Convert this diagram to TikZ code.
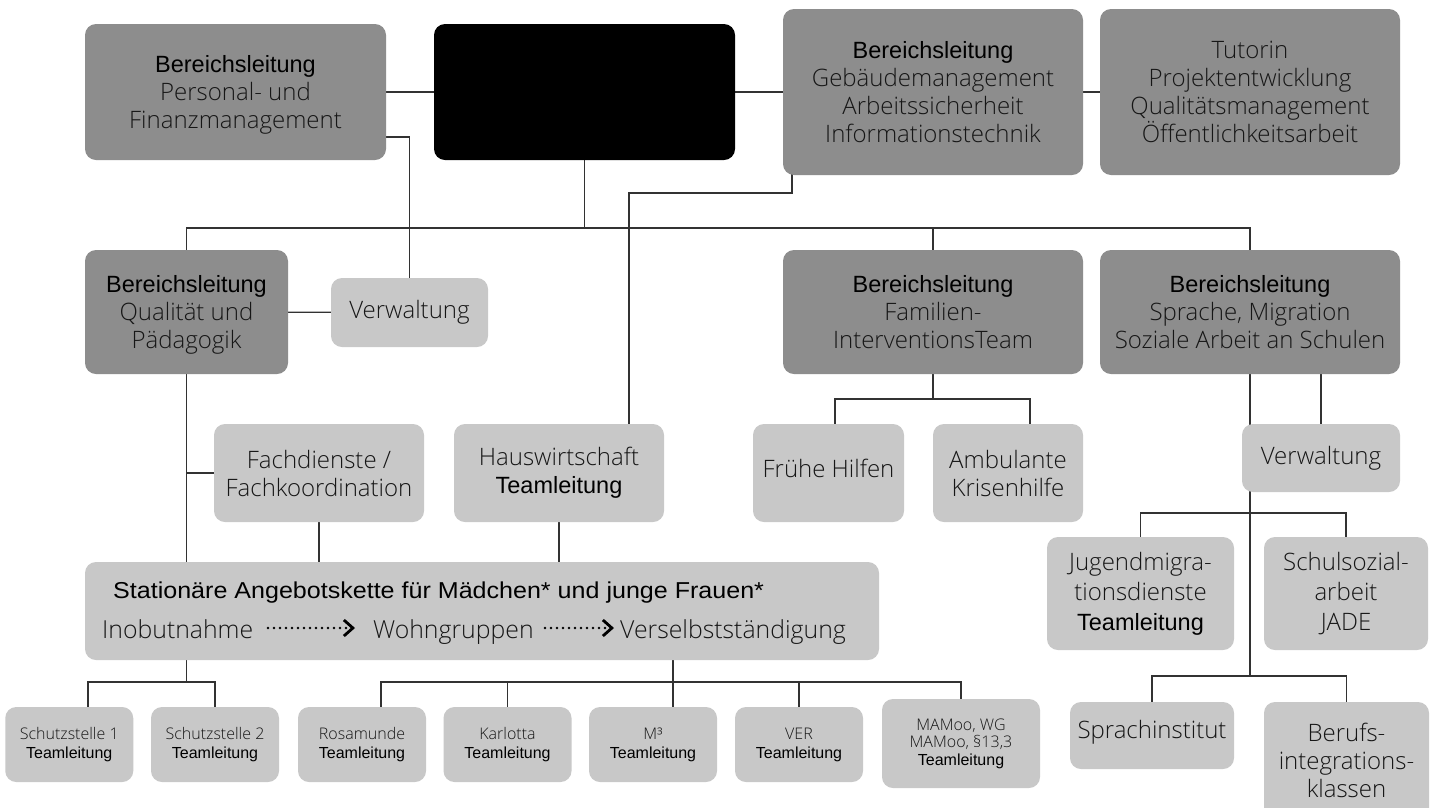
\documentclass[tikz,border=0pt]{standalone}
\usepackage{fontspec}
\usepackage{graphicx}
\usetikzlibrary{arrows.meta}
\IfFontExistsTF{Open Sans Light}{\newfontfamily\ltf{Open Sans Light}}{\newfontfamily\ltf{Open Sans}}
\newfontfamily\arf{Liberation Sans}
\setmainfont{Open Sans}
\definecolor{dgray}{RGB}{141,141,141}
\definecolor{lgray}{RGB}{200,200,200}
\definecolor{lnc}{RGB}{50,50,50}
\definecolor{txt}{RGB}{22,22,22}
\definecolor{smtxt}{RGB}{60,60,60}
\newcommand\fbig{\ltf\fontsize{24}{28}\selectfont}
\newcommand\fbigj{\ltf\fontsize{24}{30}\selectfont}
\newcommand\fchain{\ltf\fontsize{24.8}{28}\selectfont}
\newcommand\fsmall{\ltf\fontsize{16}{19}\selectfont\color{smtxt}}
\newcommand\hdr{\arf\fontsize{23.5}{28}\selectfont\color{black}}
\newcommand\tlsmall{\arf\fontsize{16}{19}\selectfont\color{black}}
\pgfdeclarelayer{bg}
\pgfdeclarelayer{lines}
\pgfsetlayers{bg,lines,main}
\begin{document}
\begin{tikzpicture}[x=1pt,y=-1pt,
  box/.style={rounded corners=11pt, inner sep=0pt, align=center, text=txt, font=\fbig},
  dk/.style={box, fill=dgray},
  lt/.style={box, fill=lgray},
  sm/.style={box, fill=lgray, font=\fsmall, minimum width=128pt, minimum height=75pt},
  conn/.style={draw=lnc, line width=1.2pt},
  dotarrow/.style={draw=black, line width=2.6pt, dash pattern=on 0pt off 6pt, line cap=round,
     -{Straight Barb[length=9pt, width=16pt, line width=2.8pt]}}]
\useasboundingbox (0,0) rectangle (1437,807);
\begin{pgfonlayer}{bg}
\fill[white] (0,0) rectangle (1437,807);
\end{pgfonlayer}
\clip (0,0) rectangle (1437,807);

% top row
\node[dk, minimum width=301pt, minimum height=136pt, text depth=0pt] (pf) at (235.5,92)
  {{\hdr Bereichsleitung}\\Personal- und\\Finanzmanagement};
\node[box, fill=black, minimum width=301pt, minimum height=136pt] (ceo) at (584.5,92) {};
\node[dk, minimum width=300pt, minimum height=166pt] (geb) at (933,92)
  {{\hdr Bereichsleitung}\\Gebäudemanagement\\Arbeitssicherheit\\Informationstechnik};
\node[dk, minimum width=300pt, minimum height=166pt] (tut) at (1250,92)
  {Tutorin\\Projektentwicklung\\Qualitätsmanagement\\Öffentlichkeitsarbeit};

% second row
\node[dk, minimum width=203pt, minimum height=124pt, text depth=0pt] (blq) at (186.5,312)
  {{\hdr Bereichsleitung}\\Qualität und\\Pädagogik};
\node[lt, minimum width=157pt, minimum height=69pt] (verw1) at (409.5,312.5) {Verwaltung};
\node[dk, minimum width=300pt, minimum height=124pt] (fam) at (933,312)
  {{\hdr Bereichsleitung}\\Familien-\\InterventionsTeam};
\node[dk, minimum width=300pt, minimum height=124pt] (spr) at (1250,312)
  {{\hdr Bereichsleitung}\\Sprache, Migration\\Soziale Arbeit an Schulen};

% third row
\node[lt, minimum width=210pt, minimum height=98pt] (fach) at (319,473) {Fachdienste /\\Fachkoordination};
\node[lt, minimum width=210pt, minimum height=98pt] (haus) at (559,473) {Hauswirtschaft\\{\hdr Teamleitung}};
\node[lt, minimum width=151pt, minimum height=98pt, text depth=10pt] (fruh) at (828.5,473) {Frühe Hilfen};
\node[lt, minimum width=150pt, minimum height=98pt] (amb) at (1008,473) {Ambulante\\Krisenhilfe};
\node[lt, minimum width=158pt, minimum height=68pt] (verw2) at (1321,458) {Verwaltung};

% right column
\node[lt, minimum width=187pt, minimum height=113pt, font=\fbigj] (jug) at (1140.5,593.5)
  {Jugendmigra-\\tionsdienste\\{\hdr Teamleitung}};
\node[lt, minimum width=164pt, minimum height=113pt, font=\fbigj] (schul) at (1346,593.5)
  {Schulsozial-\\arbeit\\JADE};
\node[lt, minimum width=164pt, minimum height=67pt, text depth=13pt] (sprach) at (1152,735.5) {Sprachinstitut};
\node[lt, minimum width=165pt, minimum height=128pt, text depth=12pt] (beruf) at (1346.5,766)
  {Berufs-\\integrations-\\klassen};

% Stationaere Angebotskette
\node[lt, minimum width=794pt, minimum height=98pt] (stat) at (482,611) {};
\node[anchor=base west, inner sep=0pt, font=\arf\fontsize{23}{28}\selectfont] (stitle) at (113,598)
  {\scalebox{1.09}[1]{Stationäre Angebotskette für Mädchen* und junge Frauen*}};
\node[anchor=base west, inner sep=0pt, font=\fchain, text=txt] (ino) at (102,638) {Inobutnahme};
\node[anchor=base west, inner sep=0pt, font=\fchain, text=txt] (wohn) at (373,638) {Wohngruppen};
\node[anchor=base west, inner sep=0pt, font=\fchain, text=txt] (vers) at (620,638) {Verselbstständigung};
\coordinate (a1) at (268,628);
\coordinate (a2) at (355,628);
\coordinate (a3) at (545,628);
\coordinate (a4) at (614,628);
\draw[dotarrow] (a1) -- (a2);
\draw[dotarrow] (a3) -- (a4);

% bottom row
\node[sm] (s1) at (69.25,744.5) {Schutzstelle 1\\{\tlsmall Teamleitung}};
\node[sm] (s2) at (215,744.5) {Schutzstelle 2\\{\tlsmall Teamleitung}};
\node[sm] (ros) at (362,744.5) {Rosamunde\\{\tlsmall Teamleitung}};
\node[sm] (kar) at (507.5,744.5) {Karlotta\\{\tlsmall Teamleitung}};
\node[sm] (m3) at (653,744.5) {M³\\{\tlsmall Teamleitung}};
\node[sm] (ver) at (799,744.5) {VER\\{\tlsmall Teamleitung}};
\node[sm, minimum width=158pt, minimum height=89pt, font=\ltf\fontsize{16}{17.5}\selectfont\color{smtxt}] (mam) at (961,743.5)
  {MAMoo, WG\\MAMoo, §13,3\\{\tlsmall Teamleitung}};

% connectors
\coordinate (k1) at (409.5,137);
\coordinate (bus) at (0,228);
\coordinate (k2) at (792,193);
\coordinate (k3) at (629,193);
\coordinate (tb) at (0,682);
\coordinate (f1) at (835,399);
\coordinate (f2) at (1030,399);
\coordinate (sb1) at (0,513);
\coordinate (sb2) at (0,676);
\coordinate (t1) at (88,682);
\coordinate (t2) at (673,682);
\coordinate (t3) at (381,682);
\begin{pgfonlayer}{lines}
\draw[conn] (pf) -- (ceo);
\draw[conn] (ceo) -- (geb);
\draw[conn] (geb) -- (tut);
\draw[conn] (pf |- k1) -- (k1) -- (verw1);
\draw[conn] (ceo) -- (ceo |- bus);
\draw[conn] (blq) -- (blq |- bus) -- (spr |- bus) -- (spr);
\draw[conn] (fam) -- (fam |- bus);
\draw[conn] (k2 |- geb) -- (k2) -- (k3) -- (k3 |- haus);
\draw[conn] (blq) -- (verw1);
\draw[conn] (blq) -- (blq |- tb);
\draw[conn] (blq |- fach) -- (fach);
\draw[conn] (fach) -- (fach |- stat);
\draw[conn] (haus) -- (haus |- stat);
\draw[conn] (fam) -- (fam |- f1);
\draw[conn] (f1 |- fruh) -- (f1) -- (f2) -- (f2 |- amb);
\draw[conn] (verw2) -- (verw2 |- spr);
\draw[conn] (spr) -- (spr |- sb2);
\draw[conn] (jug) -- (jug |- sb1) -- (schul |- sb1) -- (schul);
\draw[conn] (sprach) -- (sprach |- sb2) -- (beruf |- sb2) -- (beruf);
\draw[conn] (t1 |- s1) -- (t1) -- (s2 |- tb) -- (s2);
\draw[conn] (t2 |- stat) -- (t2) -- (t2 |- m3);
\draw[conn] (t3 |- ros) -- (t3) -- (mam |- tb) -- (mam);
\draw[conn] (kar) -- (kar |- tb);
\draw[conn] (ver) -- (ver |- tb);
\end{pgfonlayer}
\end{tikzpicture}
\end{document}
